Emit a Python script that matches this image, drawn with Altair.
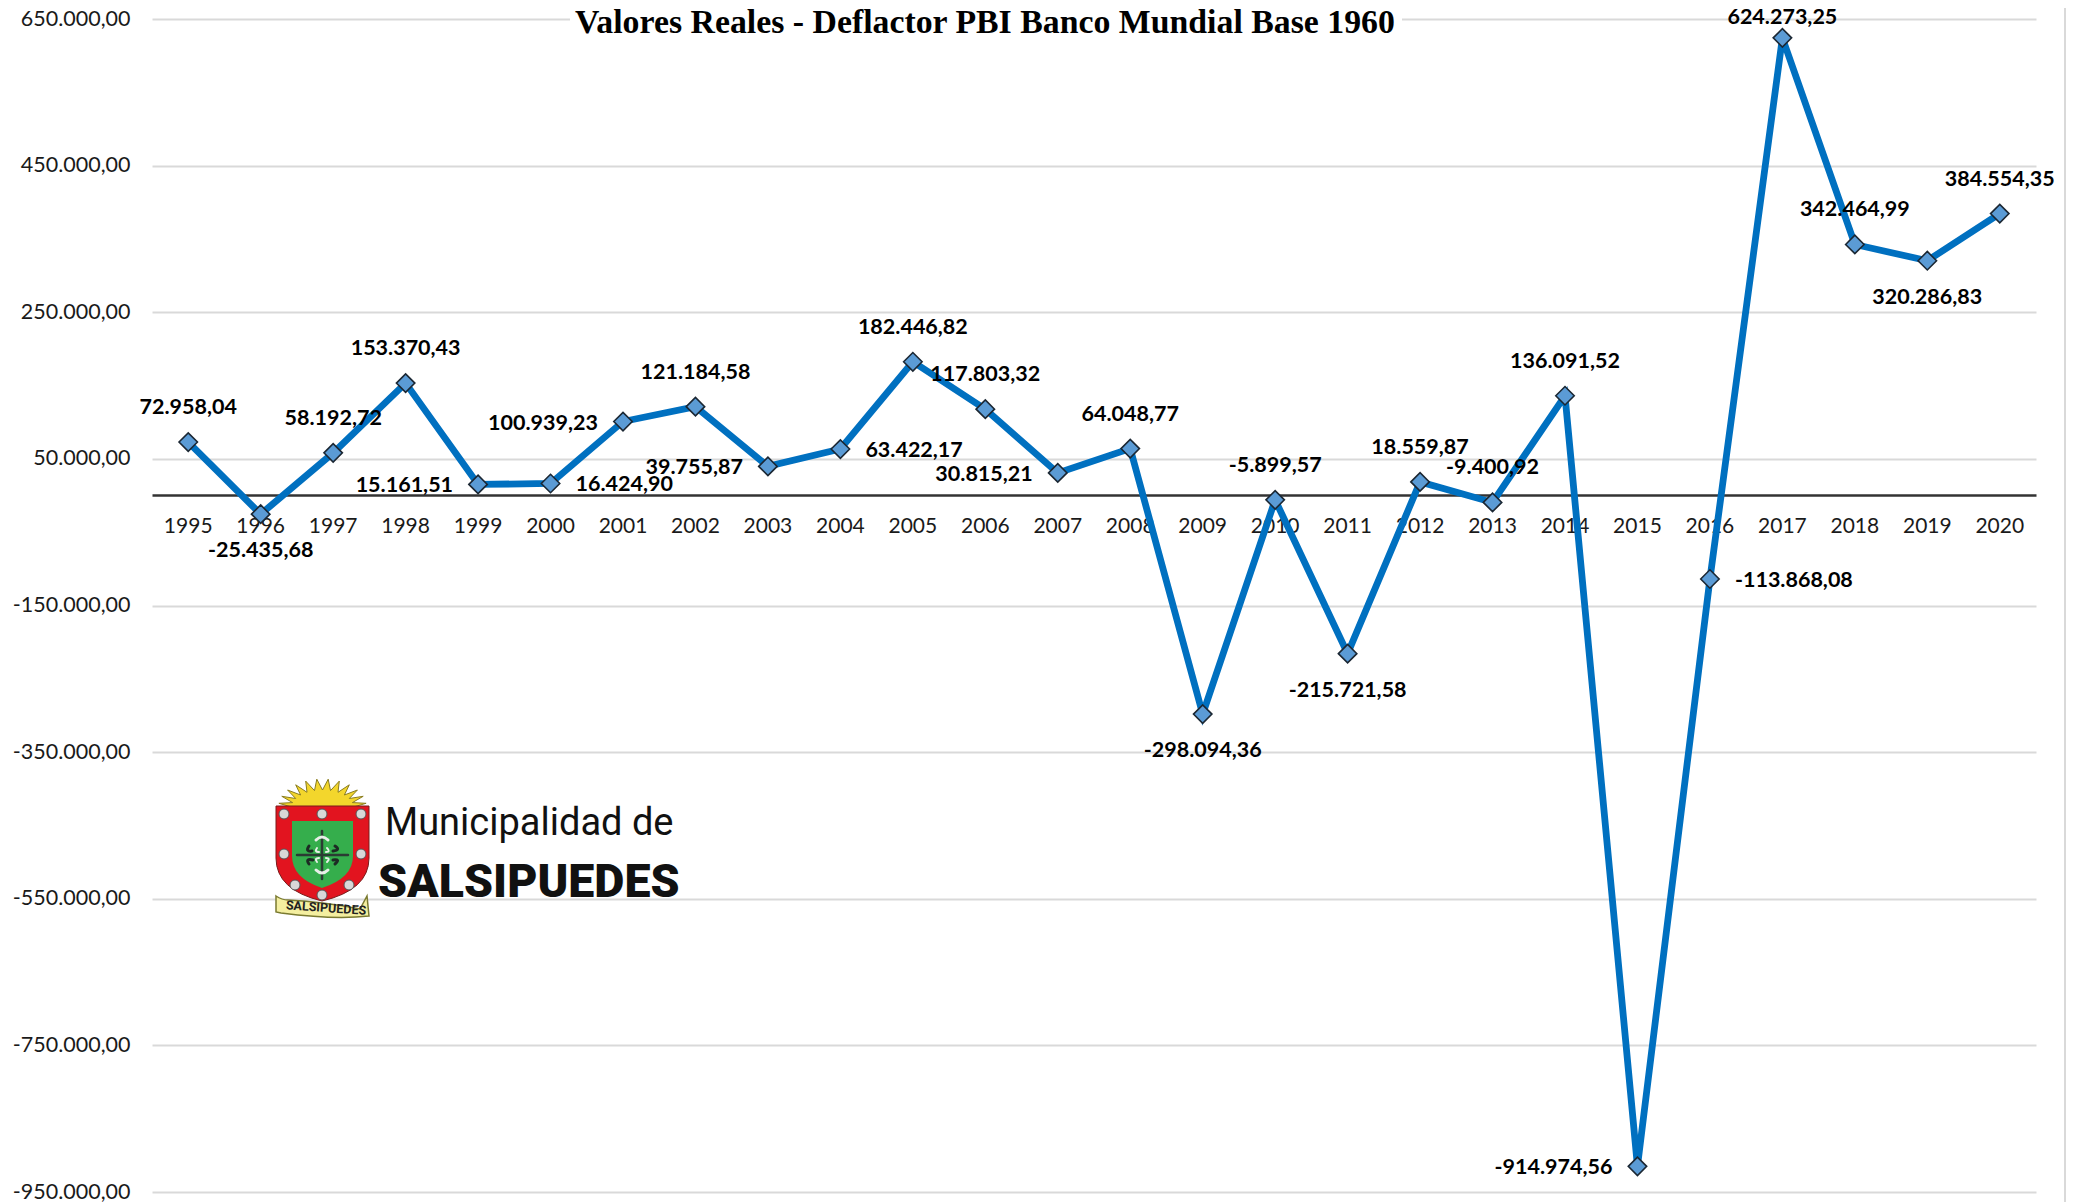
import math
import urllib.parse
import altair as alt
import pandas as pd

years = [str(y) for y in range(1995, 2021)]
values = [72958.04, -25435.68, 58192.72, 153370.43, 15161.51, 16424.90, 100939.23, 121184.58,
          39755.87, 63422.17, 182446.82, 117803.32, 30815.21, 64048.77, -298094.36, -5899.57,
          -215721.58, 18559.87, -9400.92, 136091.52, -914974.56, -113868.08, 624273.25,
          342464.99, 320286.83, 384554.35]
label_side = ["above", "below", "above", "above", "left", "right", "left", "above",
              "left", "right", "above", "above", "left", "above", "below", "above",
              "below", "above", "above", "above", "left", "right", "near",
              "above", "below", "above"]
y_ticks = [650000, 450000, 250000, 50000, -150000, -350000, -550000, -750000, -950000]
title_text = "Valores Reales - Deflactor PBI Banco Mundial Base 1960"


def es(v):
    return f"{v:,.2f}".replace(",", "#").replace(".", ",").replace("#", ".")


df = pd.DataFrame({"year": years, "value": values, "side": label_side,
                   "label": [es(v) for v in values]})
one = alt.Data(values=[{"k": 1}])

W, H = 1884, 1173
x_enc = alt.X("year:N", sort=years, title=None,
              scale=alt.Scale(type="band", paddingInner=0, paddingOuter=0),
              axis=alt.Axis(orient="bottom", offset=-697, ticks=False, labelAngle=0,
                            labelFont="Lato", labelFontSize=21, labelColor="#1a1a1a",
                            labelPadding=20, domainColor="#333333", domainWidth=2.5,
                            grid=False))
y_enc = alt.Y("value:Q", title=None,
              scale=alt.Scale(domain=[-950000, 650000], nice=False, zero=False),
              axis=alt.Axis(values=y_ticks, ticks=False, domain=False, grid=True,
                            gridColor="#D9D9D9", gridWidth=2, labelFont="Lato",
                            labelFontSize=21.5, labelColor="#1a1a1a", labelPadding=22,
                            labelExpr="replace(replace(replace(replace(format(datum.value,',.2f'),',','#'),'.',','),'#','.'),'\u2212','-')"))

base = alt.Chart(df).encode(x=x_enc, y=y_enc)
line = base.mark_line(color="#0070C0", strokeWidth=6.8, strokeJoin="miter")
points = base.mark_point(shape="diamond", size=340, filled=True, fill="#5B9BD5",
                         stroke="#1B2733", strokeWidth=1.6, opacity=1)


def labels(side, **kw):
    return base.transform_filter(alt.datum.side == side).mark_text(
        font="Lato", fontSize=21.5, fontWeight="bold", color="#000000", baseline="middle", **kw
    ).encode(text="label:N")


txt_above = labels("above", align="center", dy=-34)
txt_near = labels("near", align="center", dy=-20)
txt_below = labels("below", align="center", dy=37)
txt_left = labels("left", align="right", dx=-25, dy=2)
txt_right = labels("right", align="left", dx=25, dy=2)

title_gap = alt.Chart(one).mark_rule(color="white", strokeWidth=6).encode(
    x=alt.value(418), x2=alt.value(1250), y=alt.value(0))
edge = alt.Chart(one).mark_rule(color="#D9D9D9", strokeWidth=2).encode(
    x=alt.value(1913), y=alt.value(-11), y2=alt.value(1184))
title_mark = alt.Chart(one).mark_text(
    text=title_text, font="Liberation Serif", fontSize=33.8, fontWeight="bold", color="#000000",
    align="left", baseline="alphabetic").encode(x=alt.value(423), y=alt.value(14))

# Logo artwork (decorative)
rays = []
for i in range(25):
    a = math.pi * i / 24
    rx, ry = (44, 28) if i % 2 else (31, 17)
    rays.append(f"{47.5 - rx * math.cos(a):.1f},{29 - ry * math.sin(a):.1f}")
rivets = "".join(
    f'<circle cx="{cx}" cy="{cy}" r="5" fill="#d8d8d8" stroke="#555" stroke-width="1"/>'
    for cx, cy in [(9, 36), (47, 36), (86, 36), (9, 76), (86, 76), (20, 107), (74, 107), (47, 117)])
logo = (
    '<svg xmlns="http://www.w3.org/2000/svg" width="95" height="142" viewBox="0 0 95 142">'
    f'<polygon points="{" ".join(rays)}" fill="#F3D62C" stroke="#8a7d20" stroke-width="1"/>'
    '<path d="M1 28H94V80Q94 112 47 123Q1 112 1 80Z" fill="#E2141F" stroke="#7a1a1a" stroke-width="1"/>'
    '<path d="M17 43H78V78Q78 100 47 110Q17 100 17 78Z" fill="#35AE4C"/>'
    f'{rivets}'
    '<g fill="none" stroke-linecap="round">'
    '<path d="M22 77H73M47 53V101" stroke="#2b3b33" stroke-width="2.5"/>'
    '<path d="M34 68Q30 74 37 73M60 68Q66 72 58 73M34 86Q30 80 38 82M60 86Q66 81 58 82" stroke="#1d2b24" stroke-width="3"/>'
    '<path d="M41 62Q47 56 53 62M41 92Q47 98 53 92" stroke="#e8efe8" stroke-width="3"/>'
    '<path d="M42 70Q39 74 44 74M52 70Q56 74 51 74M42 84Q39 80 44 80M52 84Q56 80 51 80" stroke="#e8efe8" stroke-width="2"/>'
    '</g>'
    '<path d="M1 118Q7 122 13 122Q50 124 85 131L92 118L94 138Q60 142 6 135L1 134Z" fill="#F4EFA0" stroke="#7a7a30" stroke-width="1.5"/>'
    '</svg>'
)
logo_url = "data:image/svg+xml;charset=utf-8," + urllib.parse.quote(logo)
logo_img = alt.Chart(one).mark_image(url=logo_url, width=95, height=142, align="left",
                                     baseline="top", aspect=False).encode(
    x=alt.value(123), y=alt.value(759))
ribbon_txt = alt.Chart(one).mark_text(text="SALSIPUEDES", font="Roboto", fontSize=12.5,
                                      fontWeight="bold", color="#222222", angle=4,
                                      align="center", baseline="middle").encode(
    x=alt.value(174), y=alt.value(889))
muni = alt.Chart(one).mark_text(text="Municipalidad de", font="Roboto", fontSize=38,
                                color="#111111", align="left", baseline="alphabetic").encode(
    x=alt.value(233), y=alt.value(816))
salsi = alt.Chart(one).mark_text(text="SALSIPUEDES", font="Roboto", fontSize=46.5, fontWeight=900,
                                 color="#111111", align="left", baseline="alphabetic").encode(
    x=alt.value(226), y=alt.value(878))

chart = alt.layer(
    title_gap, edge, line, points, txt_above, txt_near, txt_below, txt_left, txt_right,
    title_mark, logo_img, ribbon_txt, muni, salsi
).properties(
    width=W, height=H,
    padding={"left": 144, "top": 11, "right": 30, "bottom": 10},
    autosize=alt.AutoSizeParams(type="none"),
).configure_view(stroke=None)

chart.save("out.html", embed_options={"renderer": "svg", "actions": False})
